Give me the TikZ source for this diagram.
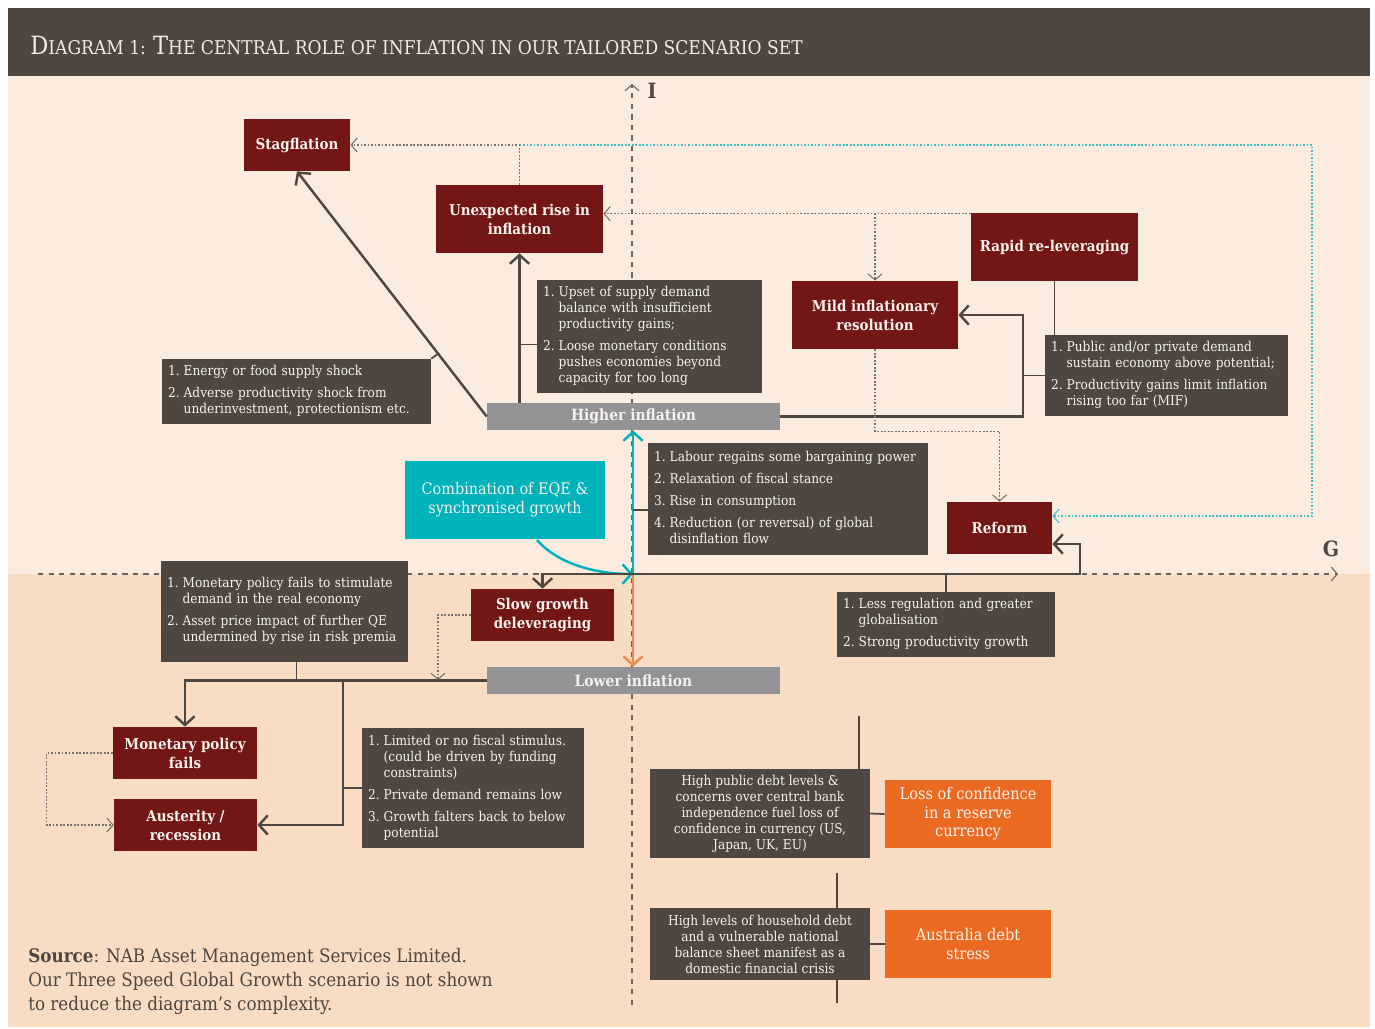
\documentclass[tikz,border=0pt]{standalone}
\usepackage{fontspec}
\setmainfont{DejaVu Serif Condensed}
\usetikzlibrary{arrows.meta,calc}
\definecolor{titleC}{HTML}{4E4641}
\definecolor{titleTxt}{HTML}{F3EAE1}
\definecolor{bgTop}{HTML}{FCECE0}
\definecolor{bgBot}{HTML}{F9DCC4}
\definecolor{redC}{HTML}{731716}
\definecolor{darkC}{HTML}{4D4641}
\definecolor{grayC}{HTML}{939396}
\definecolor{tealC}{HTML}{00B2BA}
\definecolor{orangeC}{HTML}{EA6A22}
\definecolor{orangeL}{HTML}{F08A4B}
\definecolor{lineC}{HTML}{4D4641}
\definecolor{dotC}{HTML}{7A716C}
\definecolor{cyanDot}{HTML}{3CBFC6}
\definecolor{axisC}{HTML}{6B625E}
\definecolor{boxtxt}{HTML}{F7F1EC}
\newcommand{\nlist}[1]{\begin{tabular}{@{}l@{\hspace{0.3em}}l@{}}#1\end{tabular}}
\newcommand{\bigc}[1]{{\fontsize{14.3}{16}\selectfont #1}}
\begin{document}
\begin{tikzpicture}[x=0.02cm,y=-0.02cm,
  redbox/.style={fill=redC,text=boxtxt,font=\bfseries\fontsize{8.5}{10.8}\selectfont,align=center,inner sep=1pt},
  orbox/.style={fill=orangeC,text=boxtxt,font=\fontsize{9.2}{10.6}\selectfont,align=center,inner sep=1pt},
  tealbox/.style={fill=tealC,text=boxtxt,font=\fontsize{9.1}{10.8}\selectfont,align=center,inner sep=1pt},
  graybar/.style={fill=grayC,text=boxtxt,font=\bfseries\fontsize{8.8}{10}\selectfont,inner sep=1pt,minimum width=5.86cm,minimum height=0.54cm},
  darkbox/.style={fill=darkC,text=boxtxt,font=\fontsize{7.7}{9.1}\selectfont,align=left,inner xsep=0.12cm,inner ysep=1pt},
  darkc/.style={fill=darkC,text=boxtxt,font=\fontsize{7.7}{9.1}\selectfont,align=center,inner sep=1pt},
  conn/.style={draw=lineC,line width=1.4pt},
  arr/.style={conn,-{Straight Barb[length=5pt,width=11pt]}},
  dotl/.style={draw=dotC,line width=0.6pt,dash pattern=on 1pt off 1pt},
  dotarr/.style={dotl,-{Straight Barb[length=3.5pt,width=8pt]}},
  cyanarr/.style={draw=cyanDot,line width=0.6pt,dash pattern=on 1pt off 1pt,-{Straight Barb[length=3.5pt,width=8pt]}},
  tealarr/.style={draw=tealC,line width=1.4pt,-{Straight Barb[length=5pt,width=11pt]}},
  orarr/.style={draw=orangeL,line width=1.4pt,-{Straight Barb[length=5pt,width=11pt]}},
  axisl/.style={draw=axisC,line width=0.6pt,dash pattern=on 3pt off 3pt},
]
\useasboundingbox (0,0) rectangle (1375,1028);
\fill[white] (0,0) rectangle (1375,1028);
\fill[bgTop] (8,76) rectangle (1370,574);
\fill[bgBot] (8,574) rectangle (1370,1027);
\fill[titleC] (8,8) rectangle (1370,76);
\node[anchor=west,text=titleTxt,font=\fontsize{10.8}{16}\selectfont,inner sep=0pt] (title) at (30,45)
  {\bigc{D}IAGRAM 1: \bigc{T}HE CENTRAL ROLE OF INFLATION IN OUR TAILORED SCENARIO SET};

% axes
\coordinate (O) at (633,574);
\coordinate (vtop) at (632,84);
\coordinate (vbot) at (632,1005);
\coordinate (hleft) at (38,574);
\coordinate (hright) at (1338,574);
\draw[axisl,-{Straight Barb[length=3.5pt,width=8pt]}] (vbot) -- (vtop);
\draw[axisl,-{Straight Barb[length=3.5pt,width=8pt]}] (hleft) -- (hright);
\node[font=\bfseries\fontsize{12}{14}\selectfont,text=darkC] (lblI) at (652,91) {I};
\node[font=\bfseries\fontsize{12}{14}\selectfont,text=darkC] (lblG) at (1331,549) {G};

% red boxes
\node[redbox,minimum width=2.12cm,minimum height=1.04cm] (stag) at (297,145) {Stagflation};
\node[redbox,minimum width=3.34cm,minimum height=1.36cm] (unexp) at (519.5,219) {Unexpected rise in\\inflation};
\node[redbox,minimum width=3.34cm,minimum height=1.36cm] (rapid) at (1054.5,247) {Rapid re-leveraging};
\node[redbox,minimum width=3.32cm,minimum height=1.36cm] (mild) at (875,315) {Mild inflationary\\resolution};
\node[redbox,minimum width=2.1cm,minimum height=1.04cm] (reform) at (999.5,528) {Reform};
\node[redbox,minimum width=2.86cm,minimum height=1.04cm] (slow) at (542.5,615) {Slow growth\\deleveraging};
\node[redbox,minimum width=2.88cm,minimum height=1.04cm] (mpf) at (185,753) {Monetary policy\\fails};
\node[redbox,minimum width=2.86cm,minimum height=1.04cm] (aust) at (185.5,825) {Austerity /\\recession};

% gray bars
\node[graybar] (higher) at (633.5,416.5) {Higher inflation};
\node[graybar] (lower) at (633.5,680.5) {Lower inflation};

% teal and orange
\node[tealbox,minimum width=4.0cm,minimum height=1.56cm] (combo) at (505,500) {Combination of EQE \&\\synchronised growth};
\node[orbox,minimum width=3.32cm,minimum height=1.36cm] (loss) at (968,814) {Loss of confidence\\in a reserve\\currency};
\node[orbox,minimum width=3.32cm,minimum height=1.36cm] (aus) at (968,944) {Australia debt\\stress};

% dark boxes
\node[darkbox,minimum width=4.5cm,minimum height=2.26cm,text width=4.26cm] (upset) at (649.5,336.5)
 {\nlist{1. & Upset of supply demand\\ & balance with insufficient\\ & productivity gains;\\[3.5pt]
   2. & Loose monetary conditions\\ & pushes economies beyond\\ & capacity for too long}};
\node[darkbox,minimum width=5.38cm,minimum height=1.3cm,text width=5.14cm] (energy) at (296.5,391.5)
 {\nlist{1. & Energy or food supply shock\\[3.5pt]
   2. & Adverse productivity shock from\\ & underinvestment, protectionism etc.}};
\node[darkbox,minimum width=4.86cm,minimum height=1.62cm,text width=4.62cm] (public) at (1166.5,375.5)
 {\nlist{1. & Public and/or private demand\\ & sustain economy above potential;\\[3.5pt]
   2. & Productivity gains limit inflation\\ & rising too far (MIF)}};
\node[darkbox,minimum width=5.6cm,minimum height=2.24cm,text width=5.36cm] (labour) at (788,499)
 {\nlist{1. & Labour regains some bargaining power\\[3.5pt]
   2. & Relaxation of fiscal stance\\[3.5pt]
   3. & Rise in consumption\\[3.5pt]
   4. & Reduction (or reversal) of global\\ & disinflation flow}};
\node[darkbox,minimum width=4.94cm,minimum height=2.02cm,text width=4.7cm] (mpstim) at (284.5,611.5)
 {\nlist{1. & Monetary policy fails to stimulate\\ & demand in the real economy\\[3.5pt]
   2. & Asset price impact of further QE\\ & undermined by rise in risk premia}};
\node[darkbox,minimum width=4.36cm,minimum height=1.3cm,text width=4.12cm] (lessreg) at (946,624.5)
 {\nlist{1. & Less regulation and greater\\ & globalisation\\[3.5pt]
   2. & Strong productivity growth}};
\node[darkbox,minimum width=4.44cm,minimum height=2.4cm,text width=4.2cm] (limited) at (473,788)
 {\nlist{1. & Limited or no fiscal stimulus.\\ & (could be driven by funding\\ & constraints)\\[3.5pt]
   2. & Private demand remains low\\[3.5pt]
   3. & Growth falters back to below\\ & potential}};
\node[darkc,minimum width=4.4cm,minimum height=1.78cm] (hpd) at (760,813.5)
 {High public debt levels \&\\concerns over central bank\\independence fuel loss of\\confidence in currency (US,\\Japan, UK, EU)};
\node[darkc,minimum width=4.4cm,minimum height=1.44cm] (hhd) at (760,944)
 {High levels of household debt\\and a vulnerable national\\balance sheet manifest as a\\domestic financial crisis};

% source
\node[anchor=north west,align=left,inner sep=0pt,text=darkC,font=\fontsize{10.6}{13.6}\selectfont] (src) at (28,948)
 {\textbf{Source}: NAB Asset Management Services Limited.\\Our Three Speed Global Growth scenario is not shown\\to reduce the diagram’s complexity.};

% ---- connectors ----
% upper left
\draw[arr] (higher.west) -- (stag.south);
\coordinate (etick) at (439,353);
\draw[conn,line width=1pt] (energy.north east) -- (etick);
\draw[arr] (unexp.south |- higher.north) -- (unexp.south);
\draw[conn,line width=1pt] ($(upset.west)+(0,8)$) -- ($(upset.west -| unexp.south)+(0,8)$);
% mild loop
\coordinate (cx) at (1023,416.5);
\draw[arr] (higher.east) -- (cx) |- (mild.east);
\draw[conn,line width=1pt] (public.west) -- (public.west -| cx);
\draw[conn,line width=1pt] (rapid.south) -- (rapid.south |- public.north);
% dotted
\draw[dotarr] (unexp.north) -- (unexp.north |- stag.east) -- (stag.east);
\coordinate (cyTR) at (1312,145);
\coordinate (cyBR) at (1312,516);
\draw[cyanarr] (unexp.north |- stag.east) -- (cyTR) -- (cyBR) -- ($(reform.east)+(0,-12)$);
\coordinate (rtop) at ($(rapid.north west)+(0,1)$);
\draw[dotarr] (rtop) -- (rtop -| unexp.east);
\draw[dotarr] (mild.north |- rtop) -- (mild.north);
\draw[dotarr] (mild.south) -- ++(0,82) -| (reform.north);
% centre
\draw[tealarr] (537,540) .. controls (560,566) and (600,574) .. (O);
\draw[tealarr] (O) -- (higher.south -| O);
\draw[conn,line width=1pt] ($(labour.west)+(0,11)$) -- ($(labour.west -| O)+(0,11)$);
\draw[orarr] (O) -- (lower.north -| O);
\coordinate (rturn) at (1080,574);
\draw[arr] (O) -| (slow.north);
\draw[arr] (O) -- (rturn) |- ($(reform.east)+(0,16)$);
\draw[conn,line width=1pt] (lessreg.north) -- (lessreg.north |- O);
\coordinate (ldot) at (438,680);
\draw[dotarr] (slow.west) -| (ldot);
% lower left
\draw[arr] (lower.west) -| (mpf.north);
\coordinate (lb) at (343,680.5);
\draw[arr] (lb) |- (aust.east);
\draw[conn,line width=1pt] ($(mpstim.south)+(12,0)$) -- ($(mpstim.south |- lower.west)+(12,0)$);
\draw[conn,line width=1pt] (limited.west) -- (limited.west -| lb);
\draw[dotarr] (mpf.west) -- ++(-66,0) |- (aust.west);
% lower right
\coordinate (hs1) at (859,716);
\draw[conn,line width=1pt] (hs1) -- (hs1 |- hpd.north);
\draw[conn,line width=1pt] (hpd.east) -- (loss.west);
\coordinate (hs2) at (837,873);
\coordinate (hs3) at (837,1003);
\draw[conn,line width=1pt] (hs2) -- (hs2 |- hhd.north);
\draw[conn,line width=1pt] (hhd.south -| hs3) -- (hs3);
\draw[conn,line width=1pt] (hhd.east) -- (aus.west);
\end{tikzpicture}
\end{document}
